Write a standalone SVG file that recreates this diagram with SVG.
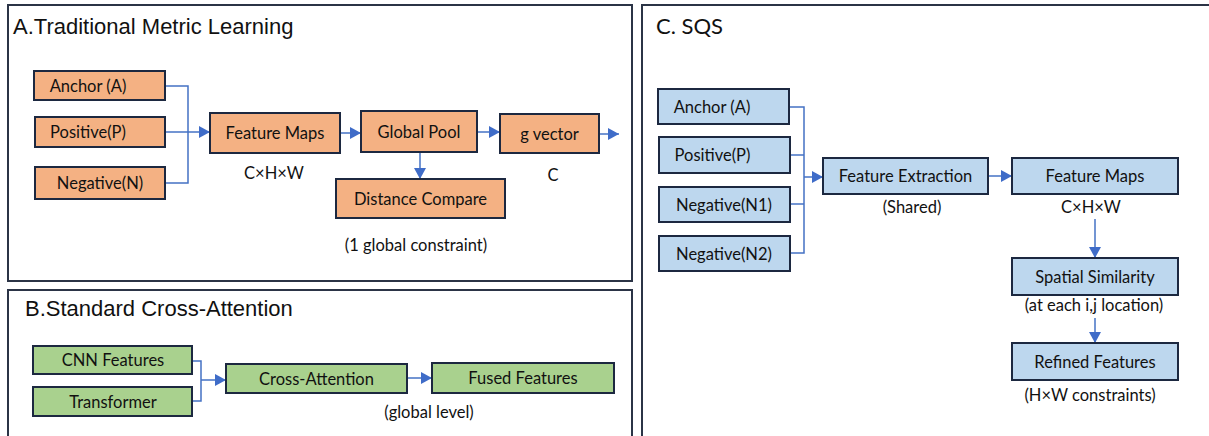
<svg xmlns="http://www.w3.org/2000/svg" width="1209" height="436" viewBox="0 0 1209 436">
<style>
.panel{fill:#fff;stroke:#2b3446;stroke-width:2}
.title{font-family:"Liberation Sans",Arial,sans-serif;font-size:22px;fill:#111}
.ctitle{font-family:Lato,"Noto Sans",sans-serif;font-size:22px;fill:#111}
.box{stroke:#1c2840;stroke-width:2}
.o{fill:#F4B183}.g{fill:#A9D18E}.b{fill:#BDD7EE}
.lbl{font-family:Lato,"Noto Sans",sans-serif;font-size:16.5px;fill:#111;text-anchor:middle}
.cap{font-family:Lato,"Noto Sans",sans-serif;font-size:16.5px;fill:#111;text-anchor:middle}
.conn{fill:none;stroke:#4472C4;stroke-width:1.5}
</style>
<defs>
<marker id="ah" markerUnits="userSpaceOnUse" markerWidth="11" markerHeight="12" refX="11" refY="6" orient="auto">
<path d="M0 0 L11 6 L0 12 Z" fill="#3F6CC8"/>
</marker>
</defs>
<rect width="1209" height="436" fill="#fff"/>
<g id="panelA">
<rect class="panel" x="8" y="5" width="624" height="276"/>
<text class="title" x="13" y="34">A.Traditional Metric Learning</text>
</g>
<g id="panelB">
<rect class="panel" x="8" y="290" width="624" height="152"/>
<text class="title" x="25" y="316">B.Standard Cross-Attention</text>
</g>
<g id="panelC">
<rect class="panel" x="642" y="5" width="572" height="440"/>
<text class="ctitle" x="656" y="34">C. SQS</text>
</g>
<g id="connectors">
<path class="conn" d="M165 86 H188 V183 H165"/>
<path class="conn" d="M165 132 H210" marker-end="url(#ah)"/>
<path class="conn" d="M340 133 H361" marker-end="url(#ah)"/>
<path class="conn" d="M477 132 H500" marker-end="url(#ah)"/>
<path class="conn" d="M599 134 H619" marker-end="url(#ah)"/>
<path class="conn" d="M420 152 V179" marker-end="url(#ah)"/>
<path class="conn" d="M192 361 H201 V401 H192"/>
<path class="conn" d="M201 380 H226" marker-end="url(#ah)"/>
<path class="conn" d="M407 378 H432" marker-end="url(#ah)"/>
<path class="conn" d="M789 107 H804 V253 H790"/>
<path class="conn" d="M790 155 H804"/>
<path class="conn" d="M790 204 H804"/>
<path class="conn" d="M804 177 H823" marker-end="url(#ah)"/>
<path class="conn" d="M988 176 H1012" marker-end="url(#ah)"/>
<path class="conn" d="M1095 219 V258" marker-end="url(#ah)"/>
<path class="conn" d="M1095 318 V343" marker-end="url(#ah)"/>
</g>
<g id="a_anchor"><rect class="box o" x="34" y="71" width="131" height="29"/><text class="lbl" x="88" y="91.5">Anchor (A)</text></g>
<g id="a_positive"><rect class="box o" x="35" y="117" width="130" height="30"/><text class="lbl" x="88" y="138">Positive(P)</text></g>
<g id="a_negative"><rect class="box o" x="35" y="167" width="130" height="32"/><text class="lbl" x="100" y="189">Negative(N)</text></g>
<g id="a_featuremaps"><rect class="box o" x="210" y="113" width="130" height="40"/><text class="lbl" x="275" y="139">Feature Maps</text><text class="cap" x="274" y="179">C×H×W</text></g>
<g id="a_globalpool"><rect class="box o" x="361" y="111" width="116" height="41"/><text class="lbl" x="419" y="137.5">Global Pool</text></g>
<g id="a_gvector"><rect class="box o" x="500" y="114" width="99" height="39"/><text class="lbl" x="549.5" y="139.5">g vector</text><text class="cap" x="553" y="181">C</text></g>
<g id="a_distance"><rect class="box o" x="336" y="179" width="169" height="39"/><text class="lbl" x="420.5" y="204.5">Distance Compare</text><text class="cap" x="416" y="251">(1 global constraint)</text></g>
<g id="b_cnn"><rect class="box g" x="33" y="346" width="159" height="28"/><text class="lbl" x="113" y="366">CNN Features</text></g>
<g id="b_transformer"><rect class="box g" x="33" y="387" width="159" height="29"/><text class="lbl" x="113" y="407.5">Transformer</text></g>
<g id="b_cross"><rect class="box g" x="226" y="364" width="181" height="29"/><text class="lbl" x="316.5" y="384.5">Cross-Attention</text></g>
<g id="b_fused"><rect class="box g" x="432" y="363" width="182" height="30"/><text class="lbl" x="523" y="384">Fused Features</text><text class="cap" x="429" y="418">(global level)</text></g>
<g id="c_anchor"><rect class="box b" x="658" y="89" width="131" height="35"/><text class="lbl" x="712" y="112.5">Anchor (A)</text></g>
<g id="c_positive"><rect class="box b" x="659" y="137" width="131" height="36"/><text class="lbl" x="712.5" y="161">Positive(P)</text></g>
<g id="c_neg1"><rect class="box b" x="659" y="187" width="131" height="35"/><text class="lbl" x="724" y="210.5">Negative(N1)</text></g>
<g id="c_neg2"><rect class="box b" x="659" y="236" width="131" height="35"/><text class="lbl" x="724" y="259.5">Negative(N2)</text></g>
<g id="c_extract"><rect class="box b" x="823" y="158" width="165" height="36"/><text class="lbl" x="905.5" y="182">Feature Extraction</text><text class="cap" x="912" y="213">(Shared)</text></g>
<g id="c_featuremaps"><rect class="box b" x="1012" y="158" width="166" height="36"/><text class="lbl" x="1095" y="182">Feature Maps</text><text class="cap" x="1091" y="213">C×H×W</text></g>
<g id="c_spatial"><rect class="box b" x="1012" y="258" width="166" height="37"/><text class="lbl" x="1095" y="282.5">Spatial Similarity</text><text class="cap" x="1094" y="311">(at each i,j location)</text></g>
<g id="c_refined"><rect class="box b" x="1012" y="343" width="166" height="37"/><text class="lbl" x="1095" y="367.5">Refined Features</text><text class="cap" x="1090" y="401">(H×W constraints)</text></g>
</svg>
